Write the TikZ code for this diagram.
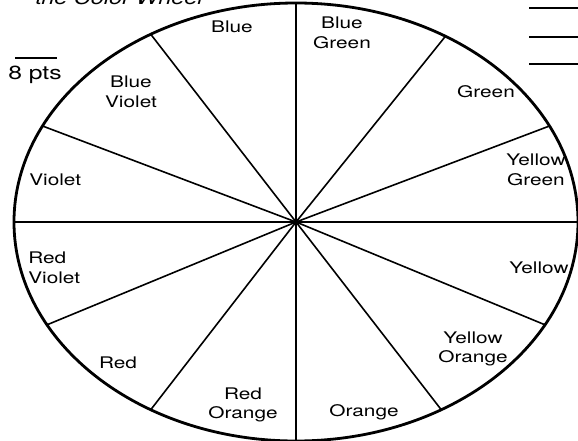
\documentclass[tikz,border=0pt]{standalone}
\usepackage{fontspec}
\setmainfont{TeX Gyre Heros}
\begin{document}
\begin{tikzpicture}[x=1pt, y=-1pt,
  lbl/.style={font=\fontsize{16}{19.5}\selectfont, align=center, xscale=1.3, inner sep=0pt},
  rim/.style={line width=2.8pt},
  spoke/.style={line width=1.6pt},
  blank/.style={line width=1.3pt}]
  \useasboundingbox (0,0) rectangle (578,441);
  \coordinate (c) at (296,222);
  % wheel and the twelve spokes
  \draw[rim] (c) ellipse [x radius=282pt, y radius=219pt];
  \foreach \a in {0,26,58,90,121,154,180,208,239,270,301,332}
    \draw[spoke] (c) -- ++({282*cos(\a)},{-219*sin(\a)});
  % heading, points and answer blanks
  \node[lbl, font=\fontsize{18}{20}\selectfont\itshape, anchor=base west] (title) at (35,5) {the Color Wheel};
  \draw[blank] (15,58) -- (57,58);
  \node[lbl, font=\fontsize{19}{20}\selectfont, anchor=base west] (pts) at (8,80) {8 pts};
  \foreach \y in {8,37,64}
    \draw[blank] (529,\y) -- (578,\y);
  % sector names
  \node[lbl] (blue) at (232,27) {Blue};
  \node[lbl] (bluegreen) at (342,33) {Blue\\Green};
  \node[lbl] (green) at (486,92) {Green};
  \node[lbl] (yellowgreen) at (536,170) {Yellow\\Green};
  \node[lbl] (yellow) at (539,268) {Yellow};
  \node[lbl] (yelloworange) at (473,349) {Yellow\\Orange};
  \node[lbl] (orange) at (364,412) {Orange};
  \node[lbl] (redorange) at (243,405) {Red\\Orange};
  \node[lbl] (red) at (118,363) {Red};
  \node[lbl, align=left, anchor=west] (redviolet) at (28,268) {Red\\Violet};
  \node[lbl, anchor=west] (violet) at (29,180) {Violet};
  \node[lbl] (blueviolet) at (131,92) {Blue\\Violet};
\end{tikzpicture}
\end{document}
